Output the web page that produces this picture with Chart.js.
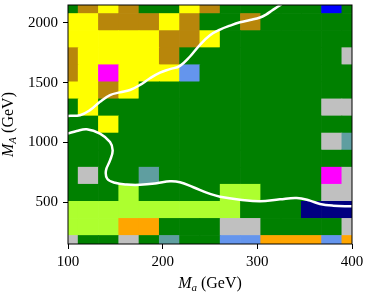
<!DOCTYPE html>
<html>
<head>
<meta charset="utf-8">
<script src="https://cdn.jsdelivr.net/npm/chart.js@4.4.1/dist/chart.umd.min.js"></script>
<style>
  html, body { margin: 0; padding: 0; background: #fff; }
</style>
</head>
<body>
<canvas id="chart1" width="366" height="296"></canvas>
<script>
// grid of scan points
const maValues = [100, 121.43, 142.86, 164.29, 185.71, 207.14, 228.57, 250, 271.43, 292.86, 314.29, 335.71, 357.14, 378.57, 400]
const mAValues = [150, 292.86, 435.71, 578.57, 721.43, 864.29, 1007.14, 1150, 1292.86, 1435.71, 1578.57, 1721.43, 1864.29, 2007.14, 2150]
const xTicks = [100, 200, 300, 400]
const yTicks = [500, 1000, 1500, 2000]

// cell classes, one string per M_A row, top row first
const cellRows = [
    'GBYBGGYBGGGGGUG',
    'YYBBBYBGGBGGGGG',
    'YYYYYBBYGGGGGGG',
    'BYYYYBGGGGGGGGS',
    'BYMYYYCGGGGGGGG',
    'YYBYGGGGGGGGGGG',
    'GYGGGGGGGGGGGSS',
    'GGYGGGGGGGGGGGG',
    'GGGGGGGGGGGGGST',
    'GGGGGGGGGGGGGGG',
    'GSGGTGGGGGGGGMS',
    'GGGLGGGGLLGGGSS',
    'LLLLLLLLLGGGNNN',
    'LLLOOGGGSSGGGGS',
    'SGGSGTGGCCOOOCO'
].reverse()

// white contours
const upperX = [100, 112.7, 123.2, 133.8, 144.4, 154.9, 165.5, 176.1, 186.6, 197.2, 207.7, 218.3, 228.9, 239.4, 250, 260.6, 271.1, 281.7, 292.3, 302.8, 309.2, 315.5, 321.8, 328]
const upperY = [1222, 1228, 1270, 1340, 1396, 1419, 1439, 1481, 1537, 1584, 1613, 1641, 1719, 1817, 1897, 1944, 1977, 2005, 2024, 2045, 2070, 2104, 2137, 2171]
const lowerX = [100, 109.2, 119.8, 133.8, 144.4, 147.2, 144.4, 140.1, 141.5, 149.6, 162, 176, 193.7, 207.7, 218.3, 232.4, 250, 260.6, 281.7, 302.8, 323.9, 341.6, 355.6, 366.2, 380.2, 399.7]
const lowerY = [1074, 1096, 1110, 1074, 1003, 933, 849, 765, 695, 662, 647, 645, 658, 675, 667, 625, 569, 546, 521, 507, 524, 535, 513, 485, 471, 465]

const xTitle = ['M', 'a', ' (GeV)']
const yTitle = ['M', 'A', ' (GeV)']

const palette = {
    G: '#008000', B: '#b8860b', Y: '#ffff00', M: '#ff00ff', C: '#6495ed', S: '#c0c0c0',
    T: '#5f9ea0', L: '#adff2f', O: '#ffa500', N: '#000080', U: '#0000ff'
}
const serif = 'Liberation Serif'
const half = (mAValues[1] - mAValues[0]) / 2

const cellSets = cellRows.map((row, j) => ({
    type: 'bar',
    data: maValues.map(x => ({x: x, y: [mAValues[j] - half, mAValues[j] + half]})),
    backgroundColor: [...row].map(c => palette[c]),
    barPercentage: 1,
    categoryPercentage: 1,
    grouped: false,
    borderWidth: 0,
    clip: 0,
    order: 2
}))

const curve = (xs, ys) => ({
    type: 'scatter',
    showLine: true,
    data: xs.map((x, i) => ({x: x, y: ys[i]})),
    borderColor: '#ffffff',
    borderWidth: 2.5,
    pointRadius: 0,
    tension: 0.4,
    clip: 0,
    order: 0
})

const drawTitle = (ctx, parts, cx, cy, angle) => {
    const fonts = ['italic 16px ' + serif, 'italic 11px ' + serif, '16px ' + serif]
    const shifts = [0, 2.5, 0]
    let total = 0
    parts.forEach((t, i) => { ctx.font = fonts[i]; total += ctx.measureText(t).width })
    ctx.save()
    ctx.translate(cx, cy)
    ctx.rotate(angle)
    ctx.fillStyle = '#000'
    ctx.textBaseline = 'alphabetic'
    let x = -total / 2
    parts.forEach((t, i) => {
        ctx.font = fonts[i]
        ctx.fillText(t, x, shifts[i])
        x += ctx.measureText(t).width
    })
    ctx.restore()
}

const frameAndTitles = {
    id: 'frameAndTitles',
    afterDraw(chart) {
        const {ctx, chartArea: a} = chart
        ctx.save()
        ctx.strokeStyle = '#000'
        ctx.lineWidth = 1
        ctx.strokeRect(a.left, a.top, a.right - a.left, a.bottom - a.top)
        ctx.restore()
        drawTitle(ctx, xTitle, (a.left + a.right) / 2, 288, 0)
        drawTitle(ctx, yTitle, 13, (a.top + a.bottom) / 2, -Math.PI / 2)
    }
}

const tickFont = {family: serif, size: 15}

new Chart(document.getElementById('chart1'), {
    type: 'bar',
    data: {
        datasets: [curve(upperX, upperY), curve(lowerX, lowerY), ...cellSets]
    },
    options: {
        responsive: false,
        animation: false,
        events: [],
        layout: {padding: {top: 5, right: 14, left: 0, bottom: 0}},
        plugins: {legend: {display: false}, tooltip: {enabled: false}},
        scales: {
            x: {
                type: 'linear',
                min: 100,
                max: 400,
                offset: false,
                afterBuildTicks: s => { s.ticks = xTicks.map(v => ({value: v})) },
                ticks: {color: '#000', font: tickFont, padding: 4, maxRotation: 0, callback: v => String(v)},
                grid: {drawOnChartArea: false, offset: false, color: '#000', tickLength: 5},
                border: {display: false},
                afterFit: s => { s.height = 52; s.paddingLeft = 0; s.paddingRight = 0 }
            },
            y: {
                type: 'linear',
                min: 150,
                max: 2150,
                beginAtZero: false,
                afterBuildTicks: s => { s.ticks = yTicks.map(v => ({value: v})) },
                ticks: {color: '#000', font: tickFont, padding: 5, callback: v => String(v)},
                grid: {drawOnChartArea: false, color: '#000', tickLength: 5},
                border: {display: false},
                afterFit: s => { s.width = 68; s.paddingTop = 0; s.paddingBottom = 0 }
            }
        }
    },
    plugins: [frameAndTitles]
})
</script>
</body>
</html>
